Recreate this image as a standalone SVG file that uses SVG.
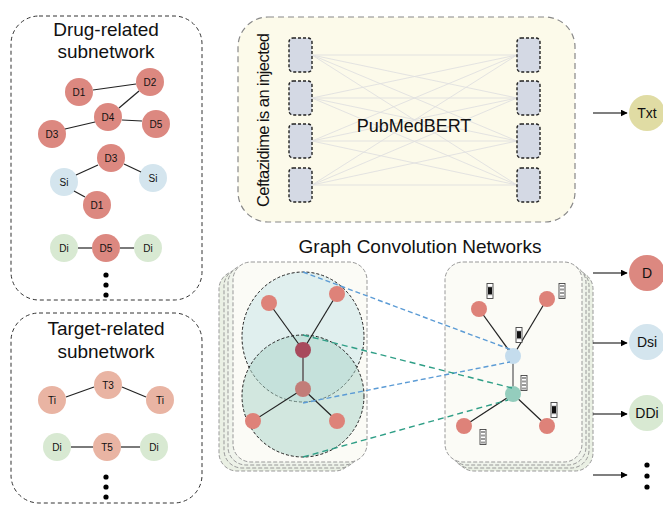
<svg xmlns="http://www.w3.org/2000/svg" xmlns:xlink="http://www.w3.org/1999/xlink" width="663" height="506" viewBox="0 0 663 506">
  <style>
    text { font-family: "Liberation Sans", Arial, sans-serif; fill: #111; }
    .panel { fill: #fff; stroke: #333; stroke-width: 1; stroke-dasharray: 4 3; }
    .title { font-size: 19px; text-anchor: middle; }
    .lbl { font-size: 10px; text-anchor: middle; dominant-baseline: central; }
    .olbl { font-size: 14px; text-anchor: middle; dominant-baseline: central; }
    .edge { stroke: #222; stroke-width: 1.2; fill: none; }
    .drug { fill: #dc8880; }
    .target { fill: #e9b4a3; }
    .side { fill: #d4e5ee; }
    .dis { fill: #d8e9d2; }
    .dot { fill: #000; }
    .tok { fill: #d4d9e4; stroke: #222; stroke-width: 1.4; stroke-dasharray: 3 2; }
    .attn { stroke: #e0e0e0; stroke-width: 0.9; }
    .frame { stroke: #999; stroke-width: 1; stroke-dasharray: 4 2; }
    .gnode { fill: #de8279; }
    .arrow { stroke: #000; stroke-width: 1.2; marker-end: url(#tri); }
    .hop { stroke: #222; stroke-width: 1; stroke-dasharray: 3 2; }
  </style>
  <defs>
    <marker id="tri" viewBox="0 0 10 10" refX="9" refY="5" markerWidth="7" markerHeight="7" orient="auto" markerUnits="userSpaceOnUse">
      <path d="M0,0 L10,5 L0,10 z" fill="#000"/>
    </marker>
    <!-- embedding vector glyphs -->
    <g id="vecDark">
      <rect x="-3" y="-7.5" width="6" height="15" fill="#fff" stroke="#444" stroke-width="0.9"/>
      <rect x="-2" y="-4" width="4" height="7.5" fill="#111"/>
      <line x1="-3" y1="-4" x2="3" y2="-4" stroke="#888" stroke-width="0.6"/>
      <line x1="-3" y1="3.8" x2="3" y2="3.8" stroke="#888" stroke-width="0.6"/>
    </g>
    <g id="vecLight">
      <rect x="-3" y="-7.5" width="6" height="15" fill="#fff" stroke="#444" stroke-width="0.9"/>
      <rect x="-2" y="-6" width="4" height="2" fill="#999"/>
      <rect x="-2" y="-2.5" width="4" height="2" fill="#999"/>
      <rect x="-2" y="1" width="4" height="2" fill="#999"/>
      <rect x="-2" y="4.5" width="4" height="2" fill="#999"/>
    </g>
  </defs>

  <!-- Drug-related subnetwork -->
  <g id="drug-panel">
    <rect class="panel" x="11" y="16" width="191" height="284" rx="28"/>
    <text class="title" x="106" y="36">Drug-related</text>
    <text class="title" x="106" y="58">subnetwork</text>
  </g>
  <!-- Target-related subnetwork -->
  <g id="target-panel">
    <rect class="panel" x="11" y="313" width="191" height="190" rx="28"/>
    <text class="title" x="106" y="335">Target-related</text>
    <text class="title" x="106" y="358">subnetwork</text>
  </g>

  <!-- PubMedBERT encoder -->
  <g id="bert">
    <rect x="238" y="17" width="337" height="205" rx="30" fill="#fcfaea" stroke="#888" stroke-width="1.2" stroke-dasharray="6 4"/>
    <g id="attention">
      <line class="attn" x1="312" y1="55" x2="517" y2="55"/>
      <line class="attn" x1="312" y1="55" x2="517" y2="98"/>
      <line class="attn" x1="312" y1="55" x2="517" y2="141"/>
      <line class="attn" x1="312" y1="55" x2="517" y2="185"/>
      <line class="attn" x1="312" y1="98" x2="517" y2="55"/>
      <line class="attn" x1="312" y1="98" x2="517" y2="98"/>
      <line class="attn" x1="312" y1="98" x2="517" y2="141"/>
      <line class="attn" x1="312" y1="98" x2="517" y2="185"/>
      <line class="attn" x1="312" y1="141" x2="517" y2="55"/>
      <line class="attn" x1="312" y1="141" x2="517" y2="98"/>
      <line class="attn" x1="312" y1="141" x2="517" y2="141"/>
      <line class="attn" x1="312" y1="141" x2="517" y2="185"/>
      <line class="attn" x1="312" y1="185" x2="517" y2="55"/>
      <line class="attn" x1="312" y1="185" x2="517" y2="98"/>
      <line class="attn" x1="312" y1="185" x2="517" y2="141"/>
      <line class="attn" x1="312" y1="185" x2="517" y2="185"/>
    </g>
    <g id="tokens-in">
      <rect class="tok" x="289" y="38" width="23" height="34" rx="4"/>
      <rect class="tok" x="289" y="81" width="23" height="34" rx="4"/>
      <rect class="tok" x="289" y="124" width="23" height="34" rx="4"/>
      <rect class="tok" x="289" y="168" width="23" height="34" rx="4"/>
    </g>
    <g id="tokens-out">
      <rect class="tok" x="517" y="38" width="23" height="34" rx="4"/>
      <rect class="tok" x="517" y="81" width="23" height="34" rx="4"/>
      <rect class="tok" x="517" y="124" width="23" height="34" rx="4"/>
      <rect class="tok" x="517" y="168" width="23" height="34" rx="4"/>
    </g>
    <text x="0" y="0" transform="translate(269,120) rotate(-90)" font-size="16.5" text-anchor="middle" textLength="174" lengthAdjust="spacing">Ceftazidime is an injected</text>
    <text x="414" y="132" font-size="18" text-anchor="middle">PubMedBERT</text>
  </g>

  <text class="title" x="420" y="253">Graph Convolution Networks</text>

  <!-- GCN input layers (stacked) -->
  <g id="gcn-in">
    <rect class="frame" x="219" y="271" width="134" height="200" rx="18" fill="#eaf0e4"/>
    <rect class="frame" x="224" y="268" width="134" height="200" rx="18" fill="#edf2e8"/>
    <rect class="frame" x="228" y="265" width="134" height="200" rx="18" fill="#f0f4ec"/>
    <rect class="frame" x="233" y="262" width="134" height="200" rx="18" fill="#fbfbf6"/>
    <ellipse cx="303" cy="337" rx="61" ry="65" fill="#cfe7ea" fill-opacity="0.6" stroke="#222" stroke-width="1" stroke-dasharray="3 2"/>
    <ellipse cx="303" cy="396" rx="61" ry="61" fill="#a9d3c7" fill-opacity="0.5" stroke="#222" stroke-width="1" stroke-dasharray="3 2"/>
    <line class="edge" x1="269" y1="303" x2="303" y2="350"/>
    <line class="edge" x1="337" y1="294" x2="303" y2="350"/>
    <line x1="303" y1="350" x2="303" y2="389" stroke="#777" stroke-width="2"/>
    <line class="edge" x1="303" y1="389" x2="253" y2="421"/>
    <line class="edge" x1="303" y1="389" x2="337" y2="421"/>
    <circle class="gnode" cx="269" cy="303" r="8"/>
    <circle class="gnode" cx="337" cy="294" r="8"/>
    <circle cx="303" cy="350" r="8" fill="#a84a5c"/>
    <circle cx="303" cy="389" r="8" fill="#c27d78"/>
    <circle class="gnode" cx="253" cy="421" r="8"/>
    <circle class="gnode" cx="337" cy="421" r="8"/>
  </g>

  <!-- GCN output layers (stacked) -->
  <g id="gcn-out">
    <rect class="frame" x="456" y="271" width="137" height="200" rx="18" fill="#eaf0e4"/>
    <rect class="frame" x="452" y="268" width="137" height="200" rx="18" fill="#edf2e8"/>
    <rect class="frame" x="449" y="265" width="137" height="200" rx="18" fill="#f0f4ec"/>
    <rect class="frame" x="445" y="262" width="137" height="200" rx="18" fill="#fbfbf6"/>
    <line class="edge" x1="479" y1="309" x2="513" y2="356"/>
    <line class="edge" x1="547" y1="299" x2="513" y2="356"/>
    <line x1="513" y1="356" x2="513" y2="394" stroke="#777" stroke-width="1.5"/>
    <line class="edge" x1="513" y1="394" x2="464" y2="426"/>
    <line class="edge" x1="513" y1="394" x2="547" y2="426"/>
    <circle class="gnode" cx="479" cy="309" r="8"/>
    <circle class="gnode" cx="547" cy="299" r="8"/>
    <circle cx="513" cy="356" r="8" fill="#c4dced"/>
    <circle cx="513" cy="394" r="8" fill="#94cdbd"/>
    <circle class="gnode" cx="464" cy="426" r="8"/>
    <circle class="gnode" cx="547" cy="426" r="8"/>
    <use xlink:href="#vecDark" x="490" y="291"/>
    <use xlink:href="#vecLight" x="562" y="291"/>
    <use xlink:href="#vecDark" x="519" y="335"/>
    <use xlink:href="#vecLight" x="524" y="383"/>
    <use xlink:href="#vecDark" x="554" y="410"/>
    <use xlink:href="#vecLight" x="483" y="437"/>
  </g>

  <!-- drug subgraphs -->
  <g id="n-d1"><circle class="drug" cx="79" cy="92" r="14"/><text class="lbl" x="79" y="92">D1</text></g>
  <g id="n-d2"><circle class="drug" cx="150" cy="82" r="14"/><text class="lbl" x="150" y="82">D2</text></g>
  <g id="n-d4"><circle class="drug" cx="108" cy="117" r="14"/><text class="lbl" x="108" y="117">D4</text></g>
  <g id="n-d5"><circle class="drug" cx="156" cy="124" r="14"/><text class="lbl" x="156" y="124">D5</text></g>
  <g id="n-d3"><circle class="drug" cx="52" cy="134" r="14"/><text class="lbl" x="52" y="134">D3</text></g>
  <g id="n-d3b"><circle class="drug" cx="111" cy="158" r="14"/><text class="lbl" x="111" y="158">D3</text></g>
  <g id="n-si1"><circle class="side" cx="64" cy="182" r="14"/><text class="lbl" x="64" y="182">Si</text></g>
  <g id="n-si2"><circle class="side" cx="153" cy="178" r="14"/><text class="lbl" x="153" y="178">Si</text></g>
  <g id="n-d1b"><circle class="drug" cx="97" cy="205" r="14"/><text class="lbl" x="97" y="205">D1</text></g>
  <g id="n-di1"><circle class="dis" cx="64" cy="248" r="14"/><text class="lbl" x="64" y="248">Di</text></g>
  <g id="n-d5b"><circle class="drug" cx="106" cy="248" r="14"/><text class="lbl" x="106" y="248">D5</text></g>
  <g id="n-di2"><circle class="dis" cx="148" cy="248" r="14"/><text class="lbl" x="148" y="248">Di</text></g>
  <g id="more-drug"><circle class="dot" cx="106" cy="275" r="2.6"/><circle class="dot" cx="106" cy="285" r="2.6"/><circle class="dot" cx="106" cy="295" r="2.6"/></g>

  <!-- target subgraphs -->
  <g id="n-t3"><circle class="target" cx="108" cy="385" r="14"/><text class="lbl" x="108" y="385">T3</text></g>
  <g id="n-ti1"><circle class="target" cx="52" cy="400" r="14"/><text class="lbl" x="52" y="400">Ti</text></g>
  <g id="n-ti2"><circle class="target" cx="160" cy="400" r="14"/><text class="lbl" x="160" y="400">Ti</text></g>
  <g id="n-di3"><circle class="dis" cx="57" cy="447" r="14"/><text class="lbl" x="57" y="447">Di</text></g>
  <g id="n-t5"><circle class="target" cx="107" cy="447" r="14"/><text class="lbl" x="107" y="447">T5</text></g>
  <g id="n-di4"><circle class="dis" cx="154" cy="447" r="14"/><text class="lbl" x="154" y="447">Di</text></g>
  <g id="more-target"><circle class="dot" cx="106" cy="477" r="2.6"/><circle class="dot" cx="106" cy="487" r="2.6"/><circle class="dot" cx="106" cy="497" r="2.6"/></g>

  <!-- outputs -->
  <g id="o-txt"><circle cx="647" cy="113" r="18" fill="#e0dca4"/><text class="olbl" x="647" y="113">Txt</text></g>
  <g id="o-d"><circle cx="647" cy="273" r="18" fill="#dc8880"/><text class="olbl" x="647" y="273" font-size="15">D</text></g>
  <g id="o-dsi"><circle cx="647" cy="342" r="18" fill="#d4e5ee"/><text class="olbl" x="647" y="342">Dsi</text></g>
  <g id="o-ddi"><circle cx="647" cy="413" r="18" fill="#d8e9d2"/><text class="olbl" x="647" y="413">DDi</text></g>
  <g id="o-more"><circle class="dot" cx="647" cy="465" r="2.6"/><circle class="dot" cx="647" cy="476" r="2.6"/><circle class="dot" cx="647" cy="487" r="2.6"/></g>

  <g id="connectors">
    <!-- subgraph edges (drawn under nodes visually by being trimmed to rims) -->
    <line class="edge" x1="93" y1="90" x2="136" y2="84"/>
    <line class="edge" x1="139" y1="91" x2="119" y2="108"/>
    <line class="edge" x1="122" y1="120" x2="142" y2="121"/>
    <line class="edge" x1="95" y1="122" x2="65" y2="129"/>
    <line class="edge" x1="98" y1="165" x2="76" y2="175"/>
    <line class="edge" x1="124" y1="164" x2="141" y2="172"/>
    <line class="edge" x1="74" y1="191" x2="85" y2="197"/>
    <line class="edge" x1="78" y1="248" x2="92" y2="248"/>
    <line class="edge" x1="120" y1="248" x2="134" y2="248"/>
    <line class="edge" x1="94" y1="387" x2="66" y2="397"/>
    <line class="edge" x1="122" y1="387" x2="146" y2="397"/>
    <line class="edge" x1="71" y1="447" x2="93" y2="447"/>
    <line class="edge" x1="121" y1="447" x2="140" y2="447"/>
    <!-- neighbourhood to node mapping -->
    <line x1="303" y1="272" x2="512" y2="350" stroke="#5b9bd5" stroke-width="1.4" stroke-dasharray="5 3"/>
    <line x1="303" y1="403" x2="510" y2="362" stroke="#5b9bd5" stroke-width="1.4" stroke-dasharray="5 3"/>
    <line x1="303" y1="335" x2="512" y2="388" stroke="#2e9e86" stroke-width="1.4" stroke-dasharray="6 4"/>
    <line x1="303" y1="457" x2="508" y2="400" stroke="#2e9e86" stroke-width="1.4" stroke-dasharray="6 4"/>
    <!-- output arrows -->
    <line class="arrow" x1="593" y1="113" x2="627" y2="113"/>
    <line class="arrow" x1="593" y1="273" x2="627" y2="273"/>
    <line class="arrow" x1="593" y1="343" x2="627" y2="343"/>
    <line class="arrow" x1="593" y1="414" x2="627" y2="414"/>
    <line class="arrow" x1="593" y1="475" x2="627" y2="475"/>
  </g>
</svg>
